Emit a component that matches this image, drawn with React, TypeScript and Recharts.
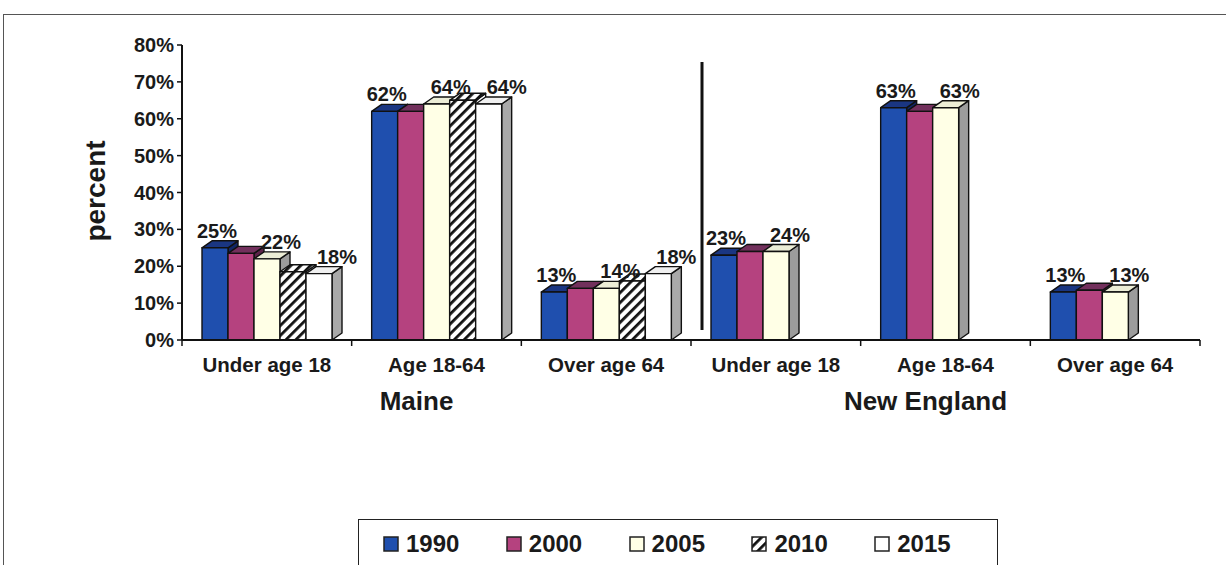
import { Bar, BarChart, LabelList, XAxis, YAxis } from "recharts";

const categories = [
  "Under age 18",
  "Age 18-64",
  "Over age 64",
  "Under age 18",
  "Age 18-64",
  "Over age 64",
];
const groups = ["Maine", "New England"];
const v1990 = [25, 62, 13, 23, 63, 13];
const v2000 = [23.5, 62, 14, 24, 62, 13.5];
const v2005 = [22, 64, 14, 24, 63, 13];
const v2010 = [18.5, 65, 16, null, null, null];
const v2015 = [18, 64, 18, null, null, null];
const yTicks = [0, 10, 20, 30, 40, 50, 60, 70, 80];

const FONT = "'Liberation Sans', Arial, sans-serif";
const W = 1226;
const H = 565;
const M = { top: 45, right: 26, left: 122, bottom: 195 };
const Y_W = 60;
const PLOT_W = W - M.left - Y_W - M.right;
const DX = 10;
const DY = 7;

type S = {
  key: string;
  name: string;
  front: string;
  top: string;
  side: string;
  label: boolean;
  labelDx: number;
};

const series: S[] = [
  { key: "y1990", name: "1990", front: "#1f4fae", top: "#1a3682", side: "#112766", label: true, labelDx: 2 },
  { key: "y2000", name: "2000", front: "#b5427f", top: "#72305c", side: "#5c2249", label: false, labelDx: 0 },
  { key: "y2005", name: "2005", front: "#ffffe6", top: "#ecedd6", side: "#9c9c9c", label: true, labelDx: 14 },
  { key: "y2010", name: "2010", front: "url(#hatch)", top: "url(#hatch)", side: "url(#hatch)", label: false, labelDx: 0 },
  { key: "y2015", name: "2015", front: "#ffffff", top: "#f0f0f0", side: "#a9a9a9", label: true, labelDx: 18 },
];

const values = [v1990, v2000, v2005, v2010, v2015];
const data = categories.map((name, i) => {
  const row: Record<string, string | number | null> = { name };
  series.forEach((s, j) => (row[s.key] = values[j][i]));
  return row;
});

function Bar3D(props: any) {
  const { x, y, width, height, value, s } = props;
  if (value == null || height == null || width == null) return null;
  const r = x + width;
  const b = y + height;
  return (
    <g stroke="#111" strokeWidth={1.4} strokeLinejoin="round">
      <polygon
        points={`${r},${y} ${r + DX},${y - DY} ${r + DX},${b - DY} ${r},${b}`}
        fill={s.side}
      />
      <polygon
        points={`${x},${y} ${x + DX},${y - DY} ${r + DX},${y - DY} ${r},${y}`}
        fill={s.top}
      />
      <rect x={x} y={y} width={width} height={height} fill={s.front} />
    </g>
  );
}

function makeLabel(s: S) {
  return (props: any) => {
    const vb = props.viewBox ?? props;
    const x = vb.x ?? props.x;
    const y = vb.y ?? props.y;
    const w = vb.width ?? props.width;
    if (props.value == null) return null;
    return (
      <text
        x={x + w / 2 + s.labelDx}
        y={y - 10}
        textAnchor="middle"
        fontFamily={FONT}
        fontWeight="bold"
        fontSize={20}
        fill="#1a1a1a"
      >
        {`${Math.round(props.value)}%`}
      </text>
    );
  };
}

function CategoryTick(props: any) {
  const { x, y, payload, index } = props;
  const bw = PLOT_W / categories.length;
  const left = x - bw / 2;
  return (
    <g>
      <line x1={left} x2={left} y1={y} y2={y + 6} stroke="#111" strokeWidth={1.5} />
      {index === categories.length - 1 && (
        <line x1={x + bw / 2} x2={x + bw / 2} y1={y} y2={y + 6} stroke="#111" strokeWidth={1.5} />
      )}
      <text
        x={x}
        y={y + 32}
        textAnchor="middle"
        fontFamily={FONT}
        fontWeight="bold"
        fontSize={20.5}
        fill="#1a1a1a"
      >
        {payload.value}
      </text>
      {index % 3 === 1 && (
        <text
          x={x - 20}
          y={y + 70}
          textAnchor="middle"
          fontFamily={FONT}
          fontWeight="bold"
          fontSize={26}
          fill="#1a1a1a"
        >
          {groups[Math.floor(index / 3)]}
        </text>
      )}
      {index === 3 && (
        <line x1={left + 11} x2={left + 11} y1={y - 10} y2={y - 278} stroke="#111" strokeWidth={3} />
      )}
    </g>
  );
}

function Swatch({ s }: { s: S }) {
  return (
    <svg width={16} height={16} style={{ marginRight: 7, flex: "none" }}>
      <rect x={1} y={1} width={14} height={14} fill={s.front} stroke="#222" strokeWidth={1.5} />
    </svg>
  );
}

export default function App() {
  return (
    <div
      style={{
        position: "absolute",
        left: 0,
        top: 0,
        width: W,
        height: H,
        overflow: "hidden",
        background: "#fff",
      }}
    >
      <div
        style={{
          position: "absolute",
          left: 3,
          top: 14,
          width: 1400,
          height: 800,
          border: "1.5px solid #555",
        }}
      />
      <div style={{ position: "absolute", left: 0, top: 0 }}>
        <BarChart
          width={W}
          height={H}
          data={data}
          margin={M}
          barCategoryGap={20}
          barGap={0}
        >
          <defs>
            <pattern
              id="hatch"
              width={7}
              height={7}
              patternUnits="userSpaceOnUse"
              patternTransform="rotate(45)"
            >
              <rect width={7} height={7} fill="#fff" />
              <rect width={2.8} height={7} fill="#111" />
            </pattern>
          </defs>
          <XAxis
            dataKey="name"
            tickLine={false}
            tickSize={0}
            tickMargin={0}
            height={30}
            interval={0}
            axisLine={{ stroke: "#111", strokeWidth: 2 }}
            tick={<CategoryTick />}
          />
          <YAxis
            width={Y_W}
            domain={[0, 80]}
            ticks={yTicks}
            tickFormatter={(v) => `${v}%`}
            tickSize={5}
            tickMargin={3}
            axisLine={{ stroke: "#111", strokeWidth: 2 }}
            tickLine={{ stroke: "#111", strokeWidth: 1.5 }}
            tick={{ fontFamily: FONT, fontWeight: "bold", fontSize: 20, fill: "#1a1a1a" }}
          />
          {series.map((s) => (
            <Bar
              key={s.key}
              dataKey={s.key}
              name={s.name}
              isAnimationActive={false}
              shape={(p: any) => <Bar3D {...p} s={s} />}
            >
              {s.label && <LabelList dataKey={s.key} content={makeLabel(s)} />}
            </Bar>
          ))}
        </BarChart>
      </div>
      <div
        style={{
          position: "absolute",
          left: 96,
          top: 191,
          transform: "translate(-50%, -50%) rotate(-90deg)",
          fontFamily: FONT,
          fontWeight: "bold",
          fontSize: 28,
          color: "#1a1a1a",
          whiteSpace: "nowrap",
        }}
      >
        percent
      </div>
      <div
        style={{
          position: "absolute",
          left: 358,
          top: 519,
          width: 640,
          height: 80,
          border: "1.5px solid #222",
          background: "#fff",
          boxSizing: "border-box",
          display: "flex",
          paddingLeft: 24,
          paddingTop: 10,
        }}
      >
        {series.map((s) => (
          <div
            key={s.key}
            style={{
              width: 128.5,
              display: "flex",
              alignItems: "center",
              height: 28,
              fontFamily: FONT,
              fontWeight: "bold",
              fontSize: 24,
              color: "#1a1a1a",
            }}
          >
            <Swatch s={s} />
            {s.name}
          </div>
        ))}
      </div>
    </div>
  );
}
